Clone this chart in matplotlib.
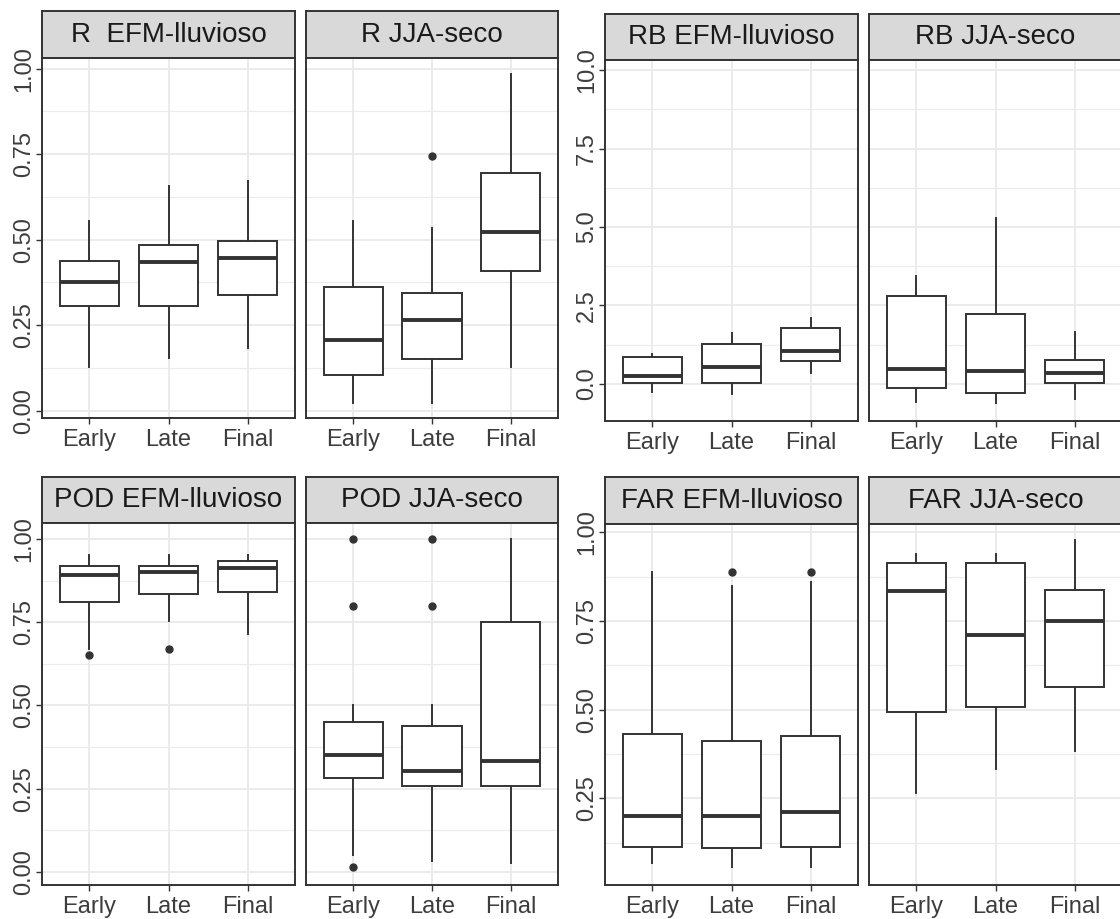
import matplotlib.pyplot as plt

plt.rcParams['font.family'] = ['Liberation Sans', 'DejaVu Sans']

categories = ["Early", "Late", "Final"]

# per category: lower whisker, Q1, median, Q3, upper whisker
r_efm = [[0.127, 0.305, 0.377, 0.439, 0.556],
         [0.154, 0.305, 0.435, 0.484, 0.656],
         [0.183, 0.338, 0.447, 0.497, 0.672]]
r_efm_out = [[], [], []]
r_jja = [[0.024, 0.104, 0.208, 0.363, 0.556],
         [0.024, 0.151, 0.266, 0.344, 0.533],
         [0.127, 0.409, 0.523, 0.695, 0.984]]
r_jja_out = [[], [0.746], []]

rb_efm = [[-0.245, 0.04, 0.265, 0.87, 0.94],
          [-0.32, 0.04, 0.53, 1.26, 1.61],
          [0.34, 0.74, 1.05, 1.77, 2.11]]
rb_efm_out = [[], [], []]
rb_jja = [[-0.56, -0.14, 0.48, 2.80, 3.45],
          [-0.62, -0.28, 0.41, 2.23, 5.30],
          [-0.48, 0.04, 0.34, 0.76, 1.67]]
rb_jja_out = [[], [], []]

pod_efm = [[0.670, 0.811, 0.893, 0.920, 0.951],
           [0.755, 0.835, 0.900, 0.920, 0.951],
           [0.715, 0.841, 0.912, 0.933, 0.951]]
pod_efm_out = [[0.651], [0.670], []]
pod_jja = [[0.052, 0.282, 0.352, 0.450, 0.500],
           [0.034, 0.259, 0.304, 0.439, 0.500],
           [0.027, 0.259, 0.334, 0.751, 1.000]]
pod_jja_out = [[1.0, 0.80, 0.015], [1.0, 0.80], []]

far_efm = [[0.067, 0.114, 0.201, 0.430, 0.888],
           [0.056, 0.109, 0.201, 0.412, 0.848],
           [0.056, 0.114, 0.213, 0.425, 0.859]]
far_efm_out = [[], [0.889], [0.889]]
far_jja = [[0.264, 0.492, 0.833, 0.914, 0.939],
           [0.332, 0.508, 0.709, 0.914, 0.939],
           [0.383, 0.564, 0.749, 0.836, 0.978]]
far_jja_out = [[], [], []]

unit_ticks = [0, 0.25, 0.5, 0.75, 1.0]
unit_labels = ["0.00", "0.25", "0.50", "0.75", "1.00"]
unit_minor = [0.125, 0.375, 0.625, 0.875]
rb_ticks = [0, 2.5, 5, 7.5, 10]
rb_labels = ["0.0", "2.5", "5.0", "7.5", "10.0"]
rb_minor = [1.25, 3.75, 6.25, 8.75]

W, H = 1120, 919
DARK = '#333333'
fig = plt.figure(figsize=(W / 100, H / 100), dpi=100)


def rect(x0, y0, x1, y1):
    return [x0 / W, 1 - y1 / H, (x1 - x0) / W, (y1 - y0) / H]


def stats(five, fliers):
    return [dict(whislo=f[0], q1=f[1], med=f[2], q3=f[3], whishi=f[4], fliers=fl)
            for f, fl in zip(five, fliers)]


def panel(x0, x1, ys, yt, yb, title, five, fliers, ylim, ticks, labels, minor, first):
    st = fig.add_axes(rect(x0, ys, x1, yt))
    st.set_facecolor('#D9D9D9')
    st.set_xticks([])
    st.set_yticks([])
    for s in st.spines.values():
        s.set_color(DARK)
        s.set_linewidth(1.4)
    st.text(0.5, 0.5, title, ha='center', va='center', fontsize=20,
            color='#1A1A1A', transform=st.transAxes)

    ax = fig.add_axes(rect(x0, yt, x1, yb))
    ax.bxp(stats(five, fliers), positions=[1, 2, 3], widths=0.75,
           showcaps=False, patch_artist=True, manage_ticks=False,
           boxprops=dict(facecolor='white', edgecolor=DARK, linewidth=1.4),
           whiskerprops=dict(color=DARK, linewidth=1.4),
           medianprops=dict(color=DARK, linewidth=2.8),
           flierprops=dict(marker='o', markerfacecolor=DARK,
                           markeredgecolor=DARK, markersize=5))
    ax.set_xlim(0.4, 3.6)
    ax.set_ylim(*ylim)
    ax.set_xticks([1, 2, 3], categories)
    ax.set_yticks(ticks, labels)
    ax.set_yticks(minor, minor=True)
    ax.set_axisbelow(True)
    ax.grid(which='major', color='#EBEBEB', linewidth=1.4)
    ax.grid(which='minor', axis='y', color='#EBEBEB', linewidth=0.8)
    ax.tick_params(which='minor', length=0)
    ax.tick_params(axis='x', length=4, width=1, color=DARK, pad=4,
                   labelsize=17, labelcolor='#3D3D3D')
    if first:
        ax.tick_params(axis='y', length=4, width=1, color=DARK, pad=1,
                       labelsize=17, labelcolor='#3D3D3D')
        for lab in ax.get_yticklabels():
            lab.set_rotation(90)
            lab.set_va('center')
    else:
        ax.tick_params(axis='y', length=0, labelleft=False)
    for s in ax.spines.values():
        s.set_color(DARK)
        s.set_linewidth(1.4)


# R
panel(42, 295, 11, 58, 418, "R  EFM-lluvioso", r_efm, r_efm_out,
      (-0.021, 1.031), unit_ticks, unit_labels, unit_minor, True)
panel(306, 558, 11, 58, 418, "R JJA-seco", r_jja, r_jja_out,
      (-0.021, 1.031), unit_ticks, unit_labels, unit_minor, False)

# RB
panel(605, 858, 14, 60, 421, "RB EFM-lluvioso", rb_efm, rb_efm_out,
      (-1.18, 10.32), rb_ticks, rb_labels, rb_minor, True)
panel(869, 1122, 14, 60, 421, "RB JJA-seco", rb_jja, rb_jja_out,
      (-1.18, 10.32), rb_ticks, rb_labels, rb_minor, False)

# POD
panel(42, 295, 477, 523, 885, "POD EFM-lluvioso", pod_efm, pod_efm_out,
      (-0.039, 1.048), unit_ticks, unit_labels, unit_minor, True)
panel(306, 558, 477, 523, 885, "POD JJA-seco", pod_jja, pod_jja_out,
      (-0.039, 1.048), unit_ticks, unit_labels, unit_minor, False)

# FAR
panel(605, 858, 477, 524, 885, "FAR EFM-lluvioso", far_efm, far_efm_out,
      (0.006, 1.023), unit_ticks[1:], unit_labels[1:], unit_minor, True)
panel(869, 1122, 477, 524, 885, "FAR JJA-seco", far_jja, far_jja_out,
      (0.006, 1.023), unit_ticks[1:], unit_labels[1:], unit_minor, False)

fig.savefig('out.png', dpi=100)
